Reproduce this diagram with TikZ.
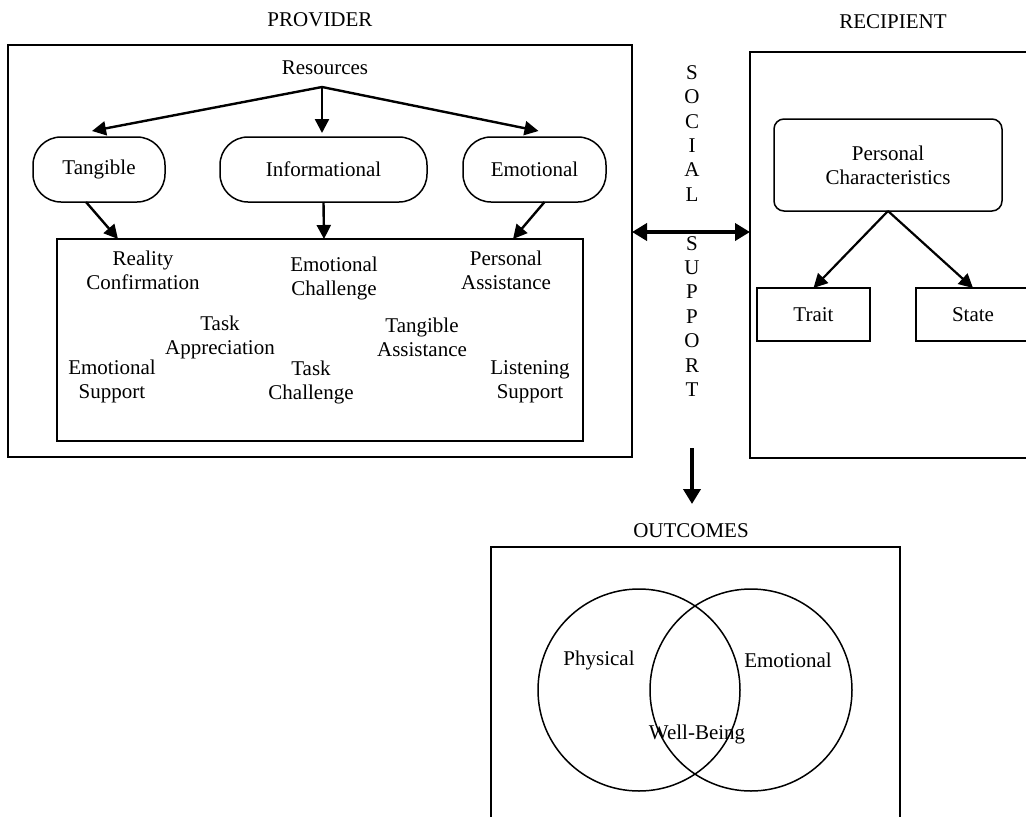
\documentclass[tikz,border=0pt]{standalone}
\usepackage{fontspec}
\setmainfont{Liberation Serif}
\usetikzlibrary{arrows.meta,calc}
\begin{document}
\begin{tikzpicture}[x=1pt,y=-1pt,
  txt/.style={font=\fontsize{21}{24}\selectfont, align=center, inner sep=0pt},
  frame/.style={draw, line width=1.6pt, inner sep=0pt, outer sep=0pt},
  pill/.style={draw, line width=1.5pt, rounded corners=28pt, inner sep=0pt, outer sep=0pt, minimum height=65pt, font=\fontsize{21}{24}\selectfont},
  sqbox/.style={draw, line width=1.5pt, inner sep=0pt, outer sep=0pt, minimum height=53pt, minimum width=113pt, font=\fontsize{21}{24}\selectfont},
  conn/.style={line width=2.4pt, -{Triangle[length=14pt,width=14pt]}},
  big/.style={line width=4.5pt, {Triangle[length=15pt,width=17pt]}-{Triangle[length=15pt,width=17pt]}},
  bigdown/.style={line width=4.5pt, -{Triangle[length=15pt,width=17pt]}}]
\useasboundingbox (0,0) rectangle (1026,817);
\clip (0,0) rectangle (1026,817);

% titles
\node[txt] (tprov) at (320,20) {PROVIDER};
\node[txt] (trec) at (893,22) {RECIPIENT};
\node[txt] (tout) at (691,531) {OUTCOMES};

% provider
\node[frame, minimum width=624pt, minimum height=412pt] (prov) at (320,251) {};
\node[txt] (res) at (325,68) {Resources};
\coordinate (rs) at (322,87);
\node[pill, minimum width=132pt] (tan) at (99,169.5) {Tangible};
\node[pill, minimum width=207pt] (inf) at (323.5,169.5) {Informational};
\node[pill, minimum width=143pt] (emo) at (534.5,169.5) {Emotional};
\node[frame, line width=1.5pt, minimum width=526pt, minimum height=202pt] (inner) at (320,340) {};

\draw[conn] (rs) -- ($(tan.north)+(-7,-6)$);
\draw[conn] (rs) -- ($(inf.north)+(-1.5,-4)$);
\draw[conn] (rs) -- ($(emo.north)+(4,-6)$);
\draw[conn] ($(tan.south)+(-13,0)$) -- ($(inner.north west)+(61,0)$);
\draw[conn] (inf.south) -- ($(inner.north west)+(267,0)$);
\draw[conn] ($(emo.south)+(10,0)$) -- ($(inner.north west)+(456,0)$);

\node[txt] (rc) at (143,270) {Reality\\Confirmation};
\node[txt] (ec) at (334,278.5) {Emotional\\Challenge};
\node[txt] (pa) at (506,270) {Personal\\Assistance};
\node[txt] (ta) at (220,337) {Task\\Appreciation};
\node[txt] (tga) at (422,337) {Tangible\\Assistance};
\node[txt] (es) at (112,381.5) {Emotional\\Support};
\node[txt] (tc) at (311,382.5) {Task\\Challenge};
\node[txt] (ls) at (530,381.5) {Listening\\Support};

% social support column
\node[txt, font=\fontsize{21}{24.4}\selectfont] (ss) at (692,231) {S\\O\\C\\I\\A\\L\\\mbox{}\\S\\U\\P\\P\\O\\R\\T};

% recipient
\node[frame, minimum width=285pt, minimum height=406pt] (rec) at (892.5,255) {};
\node[draw, line width=1.5pt, rounded corners=10pt, inner sep=0pt, outer sep=0pt, minimum width=228pt, minimum height=92pt, align=center, font=\fontsize{21}{24}\selectfont] (pc) at (888,165) {Personal\\Characteristics};
\node[sqbox] (trait) at (813.5,314.5) {Trait};
\node[sqbox, minimum width=114pt] (state) at (973,314.5) {State};
\draw[conn, line width=2.2pt] (pc.south) -- (trait.north);
\draw[conn, line width=2.2pt] (pc.south) -- (state.north);

% social support arrows
\coordinate (sy) at (692,232);
\draw[big] (prov.east |- sy) -- (rec.west |- sy);
\coordinate (dtop) at (692,448);
\coordinate (dbot) at (692,504);
\draw[bigdown] (dtop) -- (dbot);

% outcomes
\node[frame, minimum width=409pt, minimum height=300pt] (out) at (695.5,697) {};
\node[draw, circle, line width=1.5pt, minimum size=202pt, inner sep=0pt] (c1) at (639,690) {};
\node[draw, circle, line width=1.5pt, minimum size=202pt, inner sep=0pt] (c2) at (751,690) {};
\node[txt] (phys) at (599,660) {Physical};
\node[txt] (emot) at (788,660) {Emotional};
\node[txt] (wb) at (697,734) {Well-Being};
\end{tikzpicture}
\end{document}
